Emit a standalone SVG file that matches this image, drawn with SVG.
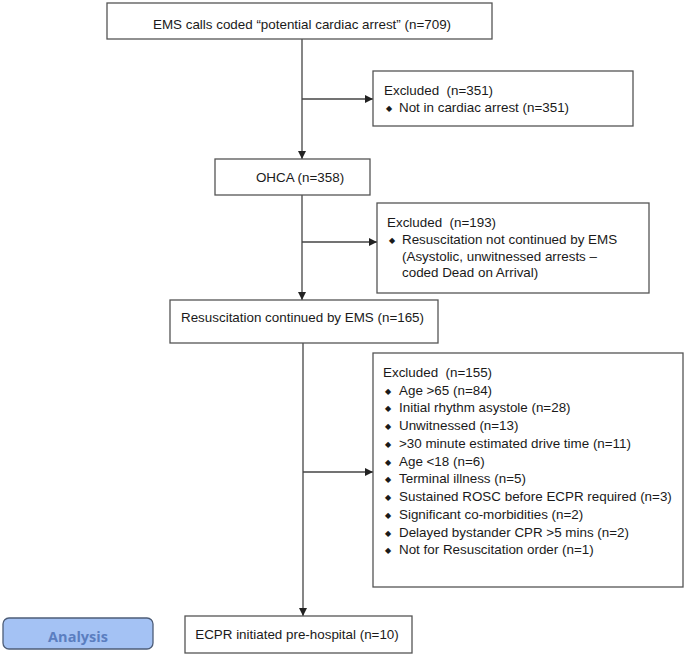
<svg xmlns="http://www.w3.org/2000/svg" width="685" height="656" viewBox="0 0 685 656">
<style>
.box{fill:#fff;stroke:#555;stroke-width:1.3}
.t{font-family:"Liberation Sans",Arial,sans-serif;font-size:13.4px;fill:#1a1a1a;white-space:pre}
.c{text-anchor:middle}
.b{font-family:"Liberation Sans",Arial,sans-serif;font-size:7.5px;fill:#1a1a1a}
.ln{stroke:#444;stroke-width:1.3;fill:none}
</style>
<defs>
<marker id="ah" viewBox="0 0 10 10" refX="10" refY="5" markerWidth="8" markerHeight="8" markerUnits="userSpaceOnUse" orient="auto">
<path d="M0,0 L10,5 L0,10 z" fill="#222"/>
</marker>
</defs>
<g id="connectors">
<line class="ln" x1="302" y1="39" x2="302" y2="159" marker-end="url(#ah)"/>
<line class="ln" x1="302" y1="99" x2="373" y2="99" marker-end="url(#ah)"/>
<line class="ln" x1="302" y1="195" x2="302" y2="300" marker-end="url(#ah)"/>
<line class="ln" x1="302" y1="242" x2="377" y2="242" marker-end="url(#ah)"/>
<line class="ln" x1="303" y1="343" x2="303" y2="616" marker-end="url(#ah)"/>
<line class="ln" x1="303" y1="472" x2="373" y2="472" marker-end="url(#ah)"/>
</g>
<g id="n1">
<rect class="box" x="107" y="3" width="385" height="36"/>
<text class="t c" x="302" y="29">EMS calls coded “potential cardiac arrest” (n=709)</text>
</g>
<g id="ex1">
<rect class="box" x="373" y="71" width="260" height="55"/>
<text class="t" x="384" y="95">Excluded  (n=351)</text>
<text class="b" x="386" y="111">◆</text>
<text class="t" x="399" y="112">Not in cardiac arrest (n=351)</text>
</g>
<g id="n2">
<rect class="box" x="215" y="159" width="155" height="36"/>
<text class="t c" x="300" y="182">OHCA (n=358)</text>
</g>
<g id="ex2">
<rect class="box" x="377" y="203" width="272" height="90"/>
<text class="t" x="387" y="227">Excluded  (n=193)</text>
<text class="b" x="389" y="243">◆</text>
<text class="t" x="402" y="244">Resuscitation not continued by EMS</text>
<text class="t" x="402" y="261">(Asystolic, unwitnessed arrests –</text>
<text class="t" x="402" y="277">coded Dead on Arrival)</text>
</g>
<g id="n3">
<rect class="box" x="170" y="300" width="268" height="43"/>
<text class="t" x="181" y="322">Resuscitation continued by EMS (n=165)</text>
</g>
<g id="ex3">
<rect class="box" x="373" y="353" width="310" height="234"/>
<text class="t" x="383" y="377">Excluded  (n=155)</text>
<g class="b">
<text x="385" y="394">◆</text><text x="385" y="411">◆</text><text x="385" y="429">◆</text><text x="385" y="447">◆</text><text x="385" y="465">◆</text><text x="385" y="482">◆</text><text x="385" y="500">◆</text><text x="385" y="518">◆</text><text x="385" y="536">◆</text><text x="385" y="553">◆</text>
</g>
<g class="t">
<text x="399" y="395">Age &gt;65 (n=84)</text>
<text x="399" y="412">Initial rhythm asystole (n=28)</text>
<text x="399" y="430">Unwitnessed (n=13)</text>
<text x="399" y="448">&gt;30 minute estimated drive time (n=11)</text>
<text x="399" y="466">Age &lt;18 (n=6)</text>
<text x="399" y="483">Terminal illness (n=5)</text>
<text x="399" y="501">Sustained ROSC before ECPR required (n=3)</text>
<text x="399" y="519">Significant co-morbidities  (n=2)</text>
<text x="399" y="537">Delayed bystander CPR &gt;5 mins (n=2)</text>
<text x="399" y="554">Not for Resuscitation order (n=1)</text>
</g>
</g>
<g id="n4">
<rect class="box" x="185" y="616" width="227" height="37"/>
<text class="t c" x="297" y="639">ECPR initiated pre-hospital (n=10)</text>
</g>
<g id="analysis">
<rect x="3" y="618" width="150" height="31" rx="6" fill="#a4c2f4" stroke="#4d5d78" stroke-width="1.3"/>
<text x="78" y="642" text-anchor="middle" font-family="'Open Sans','Liberation Sans',sans-serif" font-weight="bold" font-size="14.5" fill="#5b7ec0">Analysis</text>
</g>
</svg>
